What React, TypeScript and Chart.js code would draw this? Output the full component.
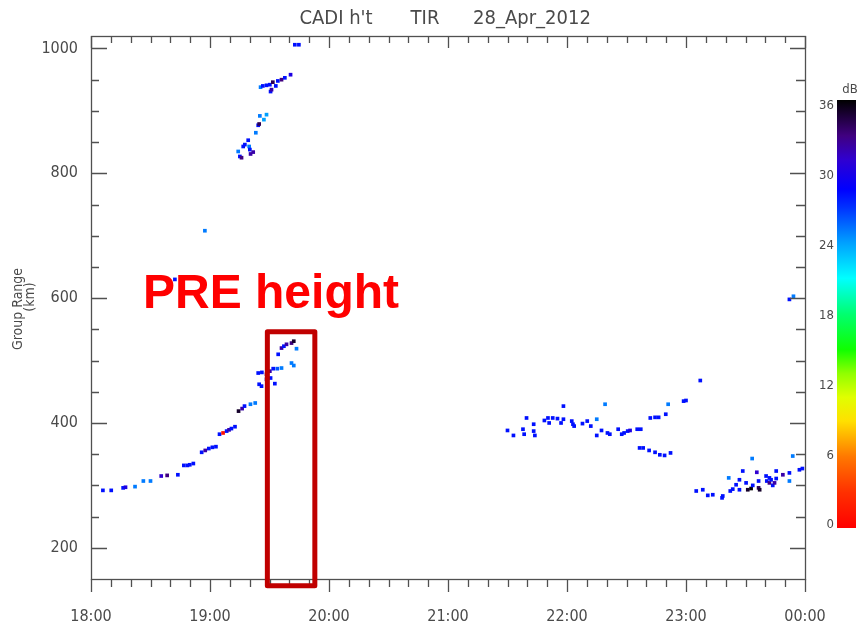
import React, { useEffect, useRef } from "react";
import { Chart, registerables } from "chart.js";

Chart.register(...registerables);

// ---- labels ---------------------------------------------------------------
const TITLE_PARTS = ["CADI h't", "TIR", "28_Apr_2012"];
const Y_TITLE = "Group Range";
const Y_UNIT = "(km)";
const HOUR_TICKS = [18, 19, 20, 21, 22, 23, 24];
const HOUR_LABELS = ["18:00", "19:00", "20:00", "21:00", "22:00", "23:00", "00:00"];
const RANGE_TICKS = [200, 400, 600, 800, 1000];
const DB_TICKS = [0, 6, 12, 18, 24, 30, 36];
const DB_UNIT = "dB";
const PRE_LABEL = "PRE height";

// highlighted pre-reversal enhancement window (UT hours, km)
const PRE_START = 19.482;
const PRE_END = 19.881;
const PRE_LOW = 139;
const PRE_HIGH = 546;

// colour table: amplitude (dB) -> colour
const CMAP_DB = [0, 3, 6, 9, 11, 13, 15, 18, 21, 24, 27, 28.5, 31, 33, 36];
const CMAP_COLOR = [
  "#ff0000", "#ff3000", "#ff7800", "#ffe000", "#e0ff00", "#90ff00", "#10ff00",
  "#00ff70", "#00ffff", "#00a0ff", "#0030ff", "#0000ff", "#3000d0", "#400080", "#000000",
];

// ---- echoes: time (UT hours), group range (km), amplitude (dB) -------------
// rising F-layer trace through the PRE
const fTime = [
  18.10, 18.17, 18.27, 18.29, 18.37, 18.44, 18.50, 18.59, 18.64, 18.73,
  18.78, 18.81, 18.83, 18.86, 18.93, 18.96, 18.99, 19.02, 19.05, 19.08,
  19.11, 19.14, 19.16, 19.18, 19.21, 19.24, 19.27, 19.29, 19.34, 19.38,
  19.405, 19.436, 19.475, 19.503, 19.531, 19.565, 19.601, 19.475, 19.509, 19.413,
  19.433, 19.545, 19.573, 19.601, 19.621, 19.643, 19.685, 19.704, 19.727, 19.685,
  19.704,
];
const fRange = [
  292, 292, 296, 297, 298, 307, 307, 315, 316, 317,
  332, 332, 333, 335, 353, 356, 359, 361, 362, 382,
  384, 387, 389, 391, 394, 419, 423, 427, 430, 432,
  480, 481, 478, 483, 487, 487, 488, 470, 472, 462,
  459, 463, 510, 520, 523, 526, 528, 531, 519, 496,
  492,
];
const fDb = [
  28, 28, 28, 30, 25, 25, 25, 31, 33, 28,
  28, 28, 28, 28, 28, 32, 28, 28, 28, 28,
  1, 28, 32, 28, 28, 35, 32, 28, 25, 25,
  28, 28, 33, 32, 28, 26, 25, 32, 28, 28,
  28, 28, 28, 32, 28, 32, 33, 35, 25, 25,
  25,
];

// multi-hop echoes
const hopTime = [
  18.705, 18.957, 19.251, 19.265, 19.237, 19.279, 19.293, 19.321, 19.329, 19.335,
  19.341, 19.363, 19.385, 19.405, 19.413, 19.419, 19.453, 19.475, 19.425, 19.444,
  19.475, 19.503, 19.509, 19.517, 19.528, 19.553, 19.570, 19.601, 19.629, 19.677,
  19.713, 19.747,
];
const hopRange = [
  630, 708, 827, 825, 835, 843, 846, 853, 843, 838,
  831, 834, 865, 877, 879, 892, 886, 894, 938, 940,
  941, 942, 931, 934, 946, 940, 948, 950, 953, 958,
  1006, 1006,
];
const hopDb = [
  28, 25, 28, 33, 25, 28, 28, 28, 25, 28,
  32, 32, 25, 28, 34, 25, 24, 24, 25, 28,
  28, 28, 28, 32, 34, 28, 28, 33, 28, 30,
  28, 28,
];

// late-evening spread echoes
const lateTime = [
  21.50, 21.55, 21.63, 21.64, 21.66, 21.72, 21.72, 21.73, 21.81, 21.84,
  21.85, 21.88, 21.92, 21.95, 21.97, 21.97, 22.04, 22.05, 22.06, 22.13,
  22.17, 22.20, 22.25, 22.25, 22.29, 22.32, 22.34, 22.36, 22.43, 22.46,
  22.48, 22.51, 22.53, 22.59, 22.62, 22.70, 22.74, 22.77, 22.83, 22.85,
  22.98, 23.00, 23.12, 22.61, 22.64, 22.69, 22.74, 22.78, 22.82, 22.87,
];
const lateRange = [
  388, 380, 390, 382, 408, 398, 387, 380, 404, 408,
  400, 408, 407, 400, 406, 427, 403, 398, 395, 399,
  403, 395, 406, 380, 388, 430, 384, 382, 390, 382,
  384, 387, 388, 390, 390, 408, 409, 409, 414, 430,
  435, 436, 468, 360, 360, 356, 353, 349, 348, 352,
];
const lateDb = [
  28, 28, 28, 28, 28, 28, 28, 28, 28, 28,
  28, 28, 28, 28, 28, 28, 28, 28, 28, 28,
  28, 28, 25, 28, 28, 25, 28, 28, 28, 28,
  28, 28, 30, 28, 28, 28, 28, 28, 28, 25,
  28, 28, 28, 28, 28, 28, 28, 28, 28, 28,
];

// near-midnight echoes
const nightTime = [
  23.086, 23.141, 23.183, 23.225, 23.303, 23.309, 23.359, 23.372, 23.393, 23.421,
  23.449, 23.449, 23.477, 23.505, 23.519, 23.547, 23.556, 23.561, 23.595, 23.610,
  23.619, 23.610, 23.673, 23.679, 23.701, 23.701, 23.715, 23.729, 23.744, 23.758,
  23.758, 23.814, 23.869, 23.869, 23.897, 23.953, 23.978, 23.869, 23.903,
];
const nightRange = [
  291, 293, 284, 285, 280, 283, 312, 291, 294, 301,
  309, 293, 323, 304, 293, 295, 343, 300, 321, 296,
  293, 307, 315, 307, 312, 304, 309, 300, 304, 323,
  311, 317, 320, 307, 347, 325, 327, 598, 603,
];
const nightDb = [
  28, 28, 28, 28, 28, 28, 25, 28, 28, 28,
  28, 28, 28, 28, 35, 36, 25, 28, 31, 34,
  35, 28, 28, 28, 28, 33, 28, 28, 32, 28,
  28, 32, 28, 25, 25, 28, 28, 28, 25,
];

// ---- styling ----------------------------------------------------------------
const AXIS_FONT = "'DejaVu Sans Condensed', 'Liberation Sans Narrow', 'DejaVu Sans', sans-serif";
const TEXT_COLOR = "#4a4a4a";
const AXIS_COLOR = "#505050";

function hexToRgb(h: string) {
  const n = parseInt(h.slice(1), 16);
  return [(n >> 16) & 255, (n >> 8) & 255, n & 255];
}

function dbColor(v: number) {
  if (v <= CMAP_DB[0]) return CMAP_COLOR[0];
  for (let i = 1; i < CMAP_DB.length; i++) {
    if (v <= CMAP_DB[i]) {
      const t = (v - CMAP_DB[i - 1]) / (CMAP_DB[i] - CMAP_DB[i - 1]);
      const a = hexToRgb(CMAP_COLOR[i - 1]);
      const b = hexToRgb(CMAP_COLOR[i]);
      const c = a.map((x, k) => Math.round(x + (b[k] - x) * t));
      return `rgb(${c[0]},${c[1]},${c[2]})`;
    }
  }
  return CMAP_COLOR[CMAP_COLOR.length - 1];
}

function echoes(label: string, t: number[], r: number[], db: number[]) {
  return {
    label,
    data: t.map((x, i) => ({ x, y: r[i] })),
    pointStyle: "rect" as const,
    pointRadius: 2.6,
    pointBorderWidth: 0,
    pointBackgroundColor: db.map(dbColor),
    showLine: false,
  };
}

// box, inward/outward tick marks on all four sides
const axesFrame = {
  id: "axesFrame",
  afterDatasetsDraw(chart: any) {
    const { ctx, chartArea: a } = chart;
    const xs = chart.scales.x;
    const ys = chart.scales.y;
    ctx.save();
    ctx.strokeStyle = AXIS_COLOR;
    ctx.lineWidth = 1.3;
    ctx.strokeRect(a.left + 0.5, a.top + 0.5, a.right - a.left, a.bottom - a.top);
    ctx.beginPath();
    for (let v = 200; v <= 1000; v += 50) {
      const py = Math.round(ys.getPixelForValue(v)) + 0.5;
      const major = v % 200 === 0;
      ctx.moveTo(a.left, py);
      ctx.lineTo(a.left + (major ? 16 : 8), py);
      ctx.moveTo(a.right, py);
      ctx.lineTo(a.right - (major ? 15 : 9), py);
    }
    for (let m = 0; m <= 360; m += 10) {
      const px = Math.round(xs.getPixelForValue(18 + m / 60)) + 0.5;
      const major = m % 60 === 0;
      ctx.moveTo(px, a.top);
      ctx.lineTo(px, a.top + (major ? 12 : 7));
      ctx.moveTo(px, a.bottom);
      ctx.lineTo(px, a.bottom + (major ? 13 : 8));
    }
    ctx.stroke();
    ctx.restore();
  },
};

// title, axis title, colour bar and the PRE annotation
const decorations = {
  id: "decorations",
  afterDraw(chart: any) {
    const { ctx } = chart;
    const xs = chart.scales.x;
    const ys = chart.scales.y;
    ctx.save();

    // title
    ctx.fillStyle = TEXT_COLOR;
    ctx.font = `20px ${AXIS_FONT}`;
    ctx.textBaseline = "middle";
    ctx.textAlign = "center";
    const titleX = [336, 425, 532];
    TITLE_PARTS.forEach((s, i) => ctx.fillText(s, titleX[i], 19));

    // y axis title
    ctx.save();
    ctx.translate(18, 309);
    ctx.rotate(-Math.PI / 2);
    ctx.font = `14px ${AXIS_FONT}`;
    ctx.fillText(Y_TITLE, 0, 0);
    ctx.restore();
    ctx.save();
    ctx.translate(30, 297);
    ctx.rotate(-Math.PI / 2);
    ctx.font = `14px ${AXIS_FONT}`;
    ctx.fillText(Y_UNIT, 0, 0);
    ctx.restore();

    // colour bar
    const cbL = 837;
    const cbR = 856;
    const cbTop = 100;
    const cbBot = 528;
    const g = ctx.createLinearGradient(0, cbBot, 0, cbTop);
    CMAP_DB.forEach((v, i) => g.addColorStop(v / 36, CMAP_COLOR[i]));
    ctx.fillStyle = g;
    ctx.fillRect(cbL, cbTop, cbR - cbL, cbBot - cbTop);
    ctx.fillStyle = TEXT_COLOR;
    ctx.font = `13px ${AXIS_FONT}`;
    ctx.textAlign = "right";
    DB_TICKS.forEach((v) => {
      const py = 525 - (v / 36) * (525 - 106);
      ctx.fillText(String(v), 834, py);
    });
    ctx.textAlign = "center";
    ctx.fillText(DB_UNIT, 850, 90);

    // PRE window box
    const bx0 = xs.getPixelForValue(PRE_START);
    const bx1 = xs.getPixelForValue(PRE_END);
    const by0 = ys.getPixelForValue(PRE_HIGH);
    const by1 = ys.getPixelForValue(PRE_LOW);
    ctx.strokeStyle = "#c00000";
    ctx.lineWidth = 5;
    ctx.lineJoin = "round";
    ctx.strokeRect(bx0, by0, bx1 - bx0, by1 - by0);

    // PRE label
    ctx.fillStyle = "#ff0000";
    ctx.font = "bold 48px 'Liberation Sans', Arial, sans-serif";
    ctx.textAlign = "left";
    ctx.textBaseline = "alphabetic";
    ctx.fillText(PRE_LABEL, 143, 308);

    ctx.restore();
  },
};

export default function App() {
  const ref = useRef<HTMLCanvasElement | null>(null);

  useEffect(() => {
    if (!ref.current) return;
    const chart = new Chart(ref.current, {
      type: "scatter",
      data: {
        datasets: [
          echoes("F trace", fTime, fRange, fDb),
          echoes("multi-hop", hopTime, hopRange, hopDb),
          echoes("late", lateTime, lateRange, lateDb),
          echoes("night", nightTime, nightRange, nightDb),
        ],
      },
      options: {
        responsive: false,
        animation: false,
        events: [],
        layout: { padding: { top: 36, right: 61, bottom: 0, left: 0 } },
        plugins: {
          legend: { display: false },
          tooltip: { enabled: false },
          title: { display: false },
        },
        scales: {
          x: {
            type: "linear",
            min: 18,
            max: 24,
            grid: { display: false },
            border: { display: false },
            afterBuildTicks: (s: any) => {
              s.ticks = HOUR_TICKS.map((v) => ({ value: v }));
            },
            afterFit: (s: any) => {
              s.height = 48;
            },
            ticks: {
              autoSkip: false,
              maxRotation: 0,
              padding: 20,
              color: TEXT_COLOR,
              font: { family: AXIS_FONT, size: 16 },
              callback: (v: any) => HOUR_LABELS[HOUR_TICKS.indexOf(Number(v))],
            },
          },
          y: {
            type: "linear",
            min: 150,
            max: 1020,
            grid: { display: false },
            border: { display: false },
            afterBuildTicks: (s: any) => {
              s.ticks = RANGE_TICKS.map((v) => ({ value: v }));
            },
            afterFit: (s: any) => {
              s.width = 91;
            },
            ticks: {
              padding: 5,
              color: TEXT_COLOR,
              font: { family: AXIS_FONT, size: 16 },
              callback: (v: any) => String(v),
            },
          },
        },
      },
      plugins: [axesFrame, decorations],
    });
    return () => chart.destroy();
  }, []);

  return (
    <div style={{ position: "fixed", left: 0, top: 0, width: 866, height: 627, background: "#fff" }}>
      <canvas ref={ref} width={866} height={627} style={{ display: "block" }} />
    </div>
  );
}
